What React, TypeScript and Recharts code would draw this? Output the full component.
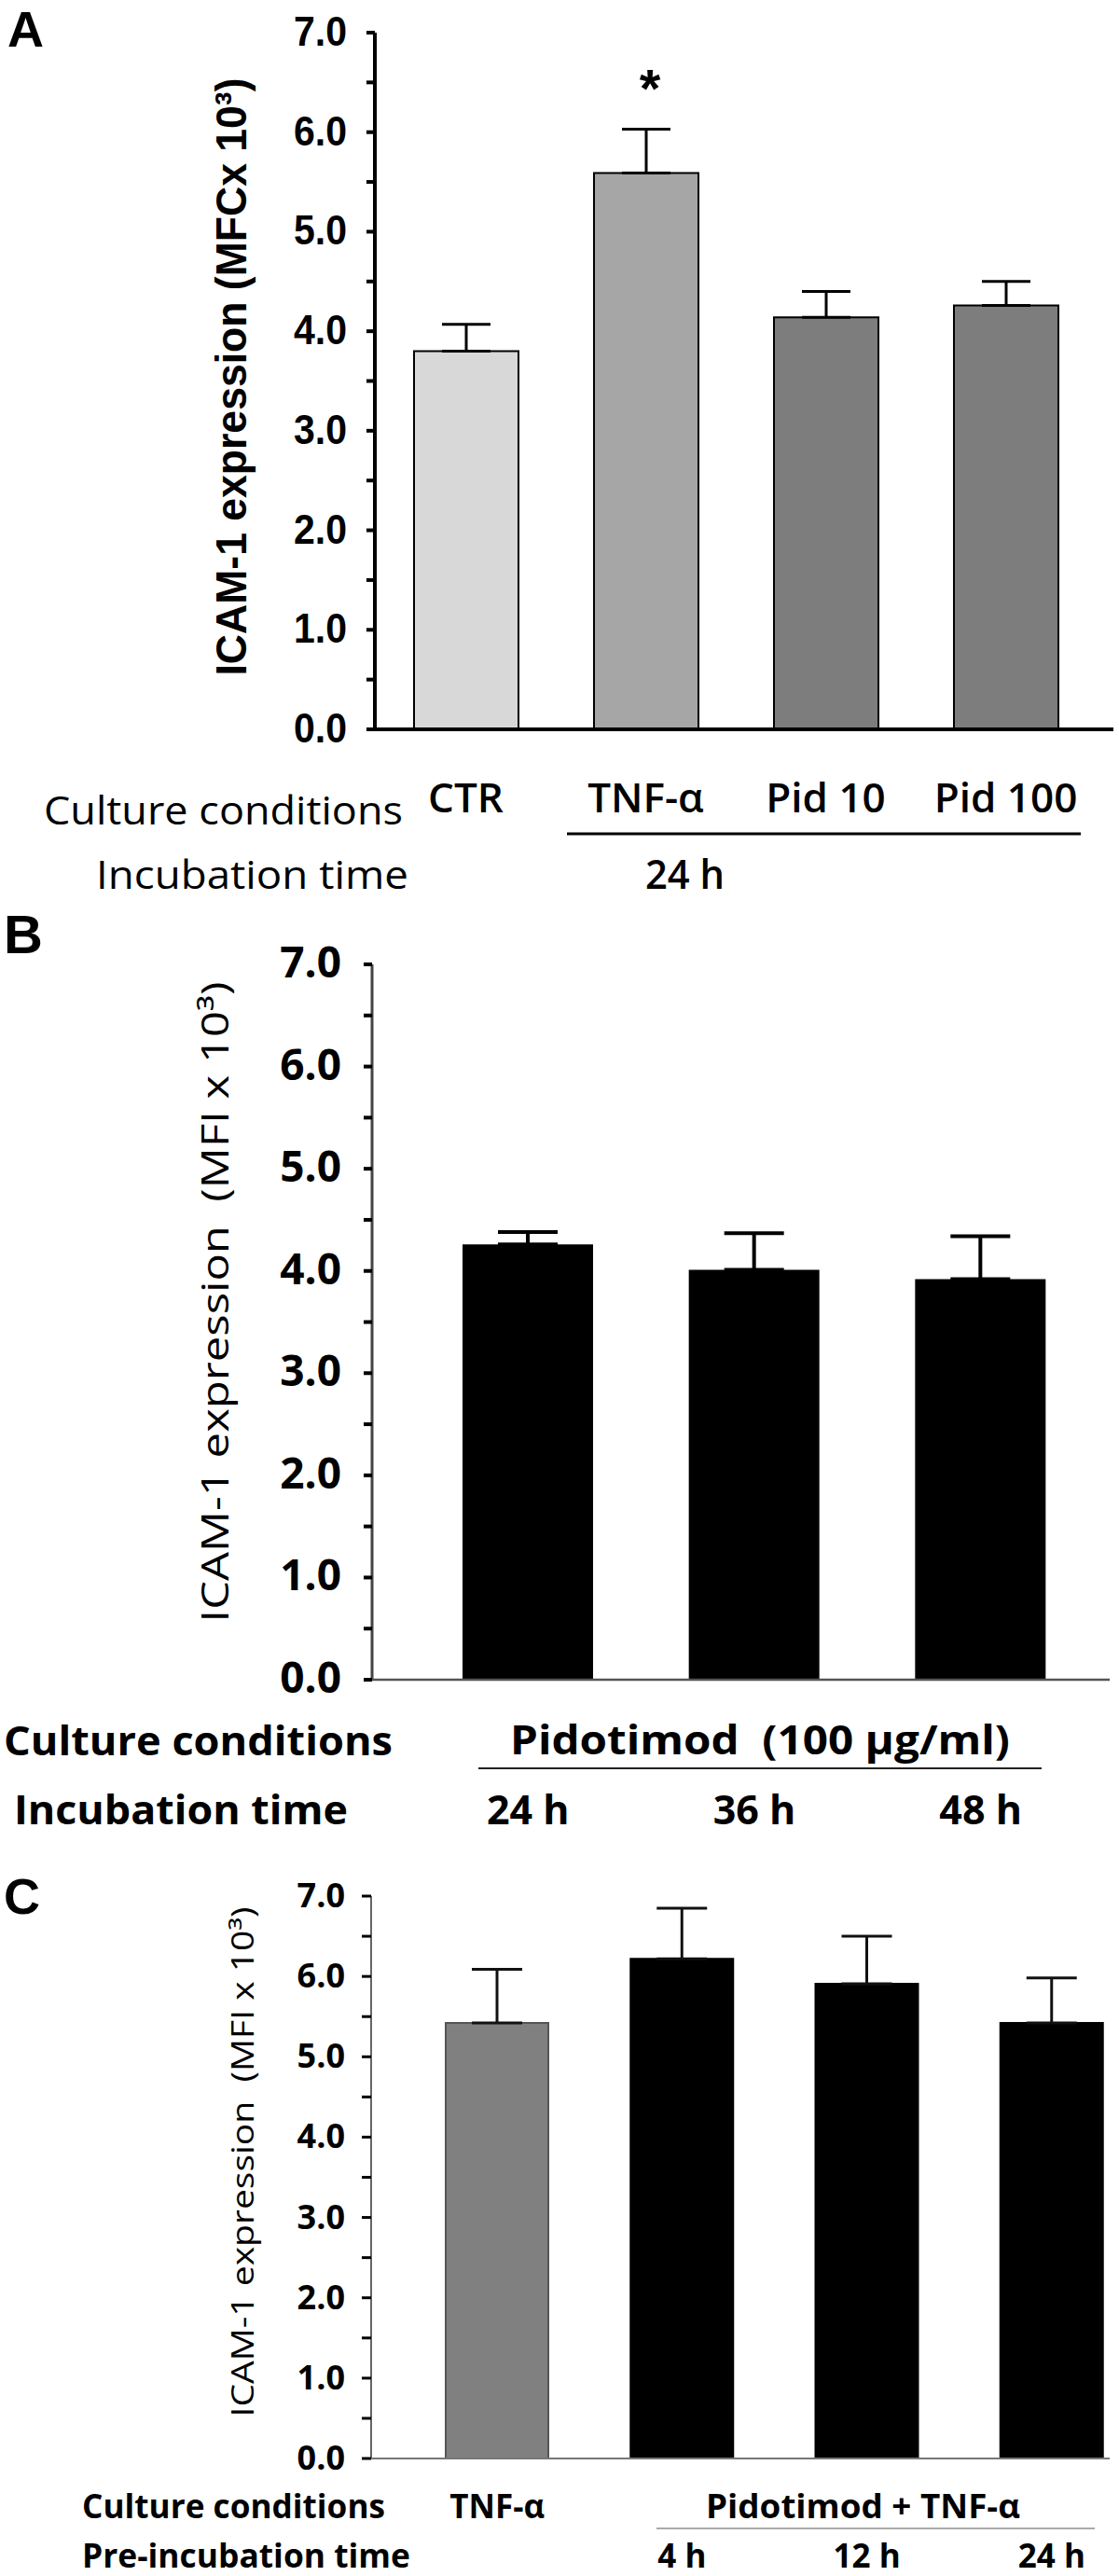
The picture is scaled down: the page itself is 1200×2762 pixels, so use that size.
import React from 'react';
import { BarChart, Bar, XAxis, YAxis, ErrorBar, Cell, LabelList } from 'recharts';

// panel A: culture conditions, 24 h incubation
const conditionsA = ['CTR', 'TNF-α', 'Pid 10', 'Pid 100'];
const meanA = [3.8, 5.59, 4.14, 4.26];
const semA = [0.27, 0.44, 0.26, 0.24];
const marksA = ['', '*', '', ''];

// panel B: pidotimod 100 ug/ml, incubation time
const timesB = ['24 h', '36 h', '48 h'];
const meanB = [4.26, 4.01, 3.92];
const semB = [0.12, 0.36, 0.42];

// panel C: TNF-a alone vs pidotimod pre-incubation + TNF-a
const conditionsC = ['TNF-α', '', '', ''];
const preIncC = ['', '4 h', '12 h', '24 h'];
const meanC = [5.42, 6.22, 5.91, 5.42];
const semC = [0.67, 0.63, 0.59, 0.56];

const yTicks = [0, 0.5, 1, 1.5, 2, 2.5, 3, 3.5, 4, 4.5, 5, 5.5, 6, 6.5, 7];

const fillsA = ['#d8d8d8', '#a6a6a6', '#7d7d7d', '#7d7d7d'];
const fillsC = ['#808080', '#000', '#000', '#000'];

const SANS = "'Open Sans', 'Noto Sans', sans-serif";
const ARIAL = "'Liberation Sans', Arial, sans-serif";
const PRE = { whiteSpace: 'pre' as const };

const dataA = conditionsA.map((c, i) => ({ name: c, value: meanA[i], err: [0, semA[i]], mark: marksA[i] }));
const dataB = timesB.map((t, i) => ({ name: t, value: meanB[i], err: [0, semB[i]] }));
const dataC = preIncC.map((t, i) => ({ name: conditionsC[i] + t, value: meanC[i], err: [0, semC[i]] }));

const YTickA = (props: any) => {
  const { x, y, payload } = props;
  if (!Number.isInteger(payload.value)) return <g />;
  return (
    <text x={x - 21} y={y + 14} textAnchor="end" fontFamily={ARIAL} fontWeight={700} fontSize={44}
      textLength={57} lengthAdjust="spacingAndGlyphs" fill="#000">
      {payload.value.toFixed(1)}
    </text>
  );
};

const YTickB = (props: any) => {
  const { x, y, payload } = props;
  if (!Number.isInteger(payload.value)) return <g />;
  return (
    <text x={x - 24} y={y + 14} textAnchor="end" fontFamily={SANS} fontWeight={700} fontSize={46} fill="#000">
      {payload.value.toFixed(1)}
    </text>
  );
};

const YTickC = (props: any) => {
  const { x, y, payload } = props;
  if (!Number.isInteger(payload.value)) return <g />;
  return (
    <text x={x - 18} y={y + 12} textAnchor="end" fontFamily={SANS} fontWeight={700} fontSize={36} fill="#000">
      {payload.value.toFixed(1)}
    </text>
  );
};

const XTickA = (props: any) => {
  const { x, y, index } = props;
  return (
    <text x={x} y={y + 89} textAnchor="middle" fontFamily={SANS} fontWeight={600} fontSize={44} fill="#000">
      {conditionsA[index]}
    </text>
  );
};

const XTickB = (props: any) => {
  const { x, y, index } = props;
  return (
    <text x={x} y={y + 155} textAnchor="middle" fontFamily={SANS} fontWeight={700} fontSize={43} fill="#000">
      {timesB[index]}
    </text>
  );
};

const XTickC = (props: any) => {
  const { x, y, index } = props;
  return (
    <g>
      <text x={x} y={y + 64} textAnchor="middle" fontFamily={SANS} fontWeight={700} fontSize={35} fill="#000">
        {conditionsC[index]}
      </text>
      <text x={x} y={y + 117} textAnchor="middle" fontFamily={SANS} fontWeight={700} fontSize={35} fill="#000">
        {preIncC[index]}
      </text>
    </g>
  );
};

const Star = (props: any) => {
  const { x, y, width, value } = props;
  if (!value) return <g />;
  return (
    <text x={x + width / 2 + 4} y={y - 70} textAnchor="middle" fontFamily={ARIAL} fontWeight={700} fontSize={58} fill="#000">
      {value}
    </text>
  );
};

const PanelA = () => (
  <BarChart width={1200} height={960} data={dataA} margin={{ top: 35, right: 6, bottom: 0, left: 0 }}>
    <YAxis width={402} domain={[0, 7]} ticks={yTicks} interval={0} tick={YTickA} tickSize={9} tickMargin={0}
      axisLine={{ stroke: '#000', strokeWidth: 4 }} tickLine={{ stroke: '#000', strokeWidth: 4 }} />
    <XAxis dataKey="name" height={178} padding={{ left: 1, right: 19 }} tick={XTickA} tickLine={false}
      tickSize={0} tickMargin={0} interval={0} axisLine={{ stroke: '#000', strokeWidth: 4 }} />
    <Bar dataKey="value" barSize={112} isAnimationActive={false}>
      {dataA.map((d, i) => (
        <Cell key={d.name} fill={fillsA[i]} stroke="#000" strokeWidth={2} />
      ))}
      <ErrorBar dataKey="err" direction="y" width={26} stroke="#000" strokeWidth={3} isAnimationActive={false} />
      <LabelList dataKey="mark" content={Star} />
    </Bar>
  </BarChart>
);

const PanelB = () => (
  <BarChart width={1200} height={1020} data={dataB} margin={{ top: 74, right: 10, bottom: 0, left: 0 }}>
    <YAxis width={399} domain={[0, 7]} ticks={yTicks} interval={0} tick={YTickB} tickSize={9} tickMargin={0}
      axisLine={{ stroke: '#444', strokeWidth: 3 }} tickLine={{ stroke: '#000', strokeWidth: 4 }} />
    <XAxis dataKey="name" height={179} padding={{ left: 46, right: 17 }} tick={XTickB} tickLine={false}
      tickSize={0} tickMargin={0} interval={0} axisLine={{ stroke: '#555', strokeWidth: 2.5 }} />
    <Bar dataKey="value" barSize={140} fill="#000" isAnimationActive={false}>
      <ErrorBar dataKey="err" direction="y" width={32} stroke="#000" strokeWidth={4} isAnimationActive={false} />
    </Bar>
  </BarChart>
);

const PanelC = () => (
  <BarChart width={1200} height={782} data={dataC} margin={{ top: 53, right: 10, bottom: 0, left: 0 }}>
    <YAxis width={398} domain={[0, 7]} ticks={yTicks} interval={0} tick={YTickC} tickSize={10} tickMargin={0}
      axisLine={{ stroke: '#666', strokeWidth: 2 }} tickLine={{ stroke: '#000', strokeWidth: 3 }} />
    <XAxis dataKey="name" height={126} padding={{ left: 36, right: -37 }} tick={XTickC} tickLine={false}
      tickSize={0} tickMargin={0} interval={0} axisLine={{ stroke: '#777', strokeWidth: 2 }} />
    <Bar dataKey="value" barSize={110} isAnimationActive={false}>
      {dataC.map((d, i) => (
        <Cell key={i} fill={fillsC[i]} stroke={i === 0 ? '#555' : '#000'} strokeWidth={2} />
      ))}
      <ErrorBar dataKey="err" direction="y" width={27} stroke="#111" strokeWidth={3} isAnimationActive={false} />
    </Bar>
  </BarChart>
);

const Overlay = () => (
  <svg width={1200} height={2762} style={{ position: 'absolute', left: 0, top: 0, pointerEvents: 'none' }}>
    {/* panel letters */}
    <text x={8} y={50} fontFamily={ARIAL} fontWeight={700} fontSize={54}>A</text>
    <text x={4} y={1022} fontFamily={ARIAL} fontWeight={700} fontSize={58}>B</text>
    <text x={4} y={2052} fontFamily={ARIAL} fontWeight={700} fontSize={54}>C</text>

    {/* y axis titles */}
    <text transform="translate(264 404) rotate(-90)" textAnchor="middle" fontFamily={ARIAL} fontWeight={700}
      fontSize={47} textLength={641} lengthAdjust="spacingAndGlyphs">ICAM-1 expression (MFCx 10³)</text>
    <text transform="translate(245 1396) rotate(-90)" textAnchor="middle" fontFamily={SANS} fontWeight={500}
      fontSize={40} textLength={687} lengthAdjust="spacingAndGlyphs" style={PRE}>ICAM-1 expression  (MFI x 10³)</text>
    <text transform="translate(272 2318) rotate(-90)" textAnchor="middle" fontFamily={SANS} fontWeight={500}
      fontSize={32} textLength={547} lengthAdjust="spacingAndGlyphs" style={PRE}>ICAM-1 expression  (MFI x 10³)</text>

    {/* panel A rows */}
    <text x={47} y={884} fontFamily={SANS} fontWeight={400} fontSize={42} textLength={385} lengthAdjust="spacingAndGlyphs">Culture conditions</text>
    <text x={103} y={953} fontFamily={SANS} fontWeight={400} fontSize={42} textLength={335} lengthAdjust="spacingAndGlyphs">Incubation time</text>
    <line x1={608} x2={1159} y1={894} y2={894} stroke="#000" strokeWidth={3} />
    <text x={692} y={953} fontFamily={SANS} fontWeight={600} fontSize={44} textLength={85} lengthAdjust="spacingAndGlyphs">24 h</text>

    {/* panel B rows */}
    <text x={4} y={1882} fontFamily={SANS} fontWeight={700} fontSize={43} textLength={417} lengthAdjust="spacingAndGlyphs">Culture conditions</text>
    <text x={547} y={1881} fontFamily={SANS} fontWeight={700} fontSize={43} textLength={536} lengthAdjust="spacingAndGlyphs" style={PRE}>Pidotimod  (100 μg/ml)</text>
    <line x1={513} x2={1117} y1={1896} y2={1896} stroke="#222" strokeWidth={2} />
    <text x={15} y={1956} fontFamily={SANS} fontWeight={700} fontSize={43} textLength={358} lengthAdjust="spacingAndGlyphs">Incubation time</text>

    {/* panel C rows */}
    <text x={88} y={2700} fontFamily={SANS} fontWeight={700} fontSize={35} textLength={325} lengthAdjust="spacingAndGlyphs">Culture conditions</text>
    <text x={757} y={2700} fontFamily={SANS} fontWeight={700} fontSize={35} textLength={337} lengthAdjust="spacingAndGlyphs">Pidotimod + TNF-α</text>
    <line x1={704} x2={1174} y1={2711} y2={2711} stroke="#aaa" strokeWidth={2} />
    <text x={88} y={2753} fontFamily={SANS} fontWeight={700} fontSize={35} textLength={352} lengthAdjust="spacingAndGlyphs">Pre-incubation time</text>
  </svg>
);

export default function App() {
  return (
    <div style={{ position: 'absolute', left: 0, top: 0, width: 1200, height: 2762, background: '#fff', overflow: 'hidden' }}>
      <div style={{ position: 'absolute', left: 0, top: 0 }}>
        <PanelA />
      </div>
      <div style={{ position: 'absolute', left: 0, top: 960 }}>
        <PanelB />
      </div>
      <div style={{ position: 'absolute', left: 0, top: 1980 }}>
        <PanelC />
      </div>
      <Overlay />
    </div>
  );
}
